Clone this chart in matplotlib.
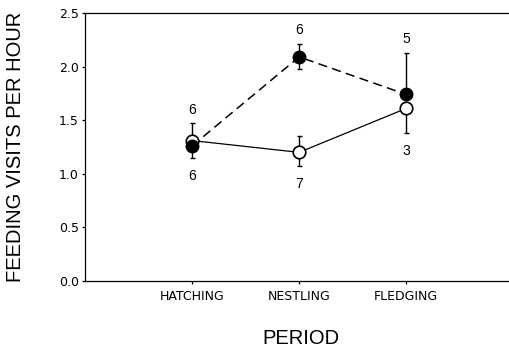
import matplotlib.pyplot as plt

periods = ['HATCHING', 'NESTLING', 'FLEDGING']
filled_mean = [1.26, 2.09, 1.74]
filled_err_lo = [0.11, 0.11, 0.0]
filled_err_hi = [0.0, 0.12, 0.39]
filled_n = ['6', '6', '5']
open_mean = [1.31, 1.20, 1.61]
open_err_lo = [0.0, 0.13, 0.23]
open_err_hi = [0.16, 0.15, 0.0]
open_n = ['6', '7', '3']

plt.rcParams['font.family'] = ['Liberation Sans', 'DejaVu Sans']

fig = plt.figure(figsize=(5.09, 3.5), dpi=100)
ax = fig.add_axes([0.167, 0.197, 0.833, 0.766])

x = [1, 2, 3]

ax.errorbar(x, open_mean, yerr=[open_err_lo, open_err_hi], fmt='-', color='black',
            lw=0.9, elinewidth=1.0, capsize=1.8, capthick=1.0, zorder=2)
ax.plot(x, open_mean, 'o', ms=9, mfc='white', mec='black', mew=1.2, zorder=3)
ax.errorbar(x, filled_mean, yerr=[filled_err_lo, filled_err_hi], fmt='--', color='black',
            lw=1.1, dashes=(6, 3.5), elinewidth=1.0, capsize=1.8, capthick=1.0, zorder=2)
ax.plot(x, filled_mean, 'o', ms=9, mfc='black', mec='black', zorder=4)

# sample sizes: above or below the bar end
for i in range(3):
    f_above = filled_mean[i] > open_mean[i]
    f_end = filled_mean[i] + filled_err_hi[i] if f_above else filled_mean[i] - filled_err_lo[i]
    o_end = open_mean[i] - open_err_lo[i] if f_above else open_mean[i] + open_err_hi[i]
    f_off = 10 if f_above else -13
    o_off = -13 if f_above else 10
    ax.annotate(filled_n[i], (x[i], f_end), xytext=(0, f_off), textcoords='offset points',
                ha='center', va='center', fontsize=10)
    ax.annotate(open_n[i], (x[i], o_end), xytext=(0, o_off), textcoords='offset points',
                ha='center', va='center', fontsize=10)

ax.set_xlim(0, 3.96)
ax.set_ylim(0, 2.5)
ax.set_xticks(x)
ax.set_xticklabels(periods, fontsize=9, family='DejaVu Sans')
ax.set_yticks([0, 0.5, 1.0, 1.5, 2.0, 2.5])
ax.set_yticklabels(['0.0', '0.5', '1.0', '1.5', '2.0', '2.5'], fontsize=9, family='DejaVu Sans')
ax.tick_params(direction='out', length=2.5, width=0.9, pad=2)
ax.tick_params(axis='x', pad=4)
ax.spines['right'].set_visible(False)
for s in ['left', 'bottom', 'top']:
    ax.spines[s].set_linewidth(0.9)

ax.set_xlabel('PERIOD', fontsize=14.5, va='center')
ax.xaxis.set_label_coords(0.509, -0.216)
ax.set_ylabel('FEEDING VISITS PER HOUR', fontsize=14.5, va='center')
ax.yaxis.set_label_coords(-0.163, 0.502)

fig.savefig('out.png', dpi=100)
